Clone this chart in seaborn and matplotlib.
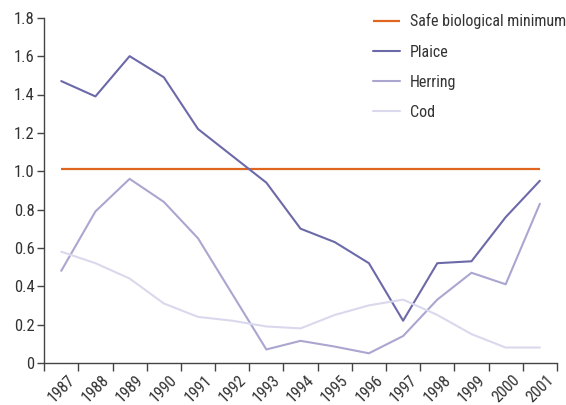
# Fish stocks relative to the safe biological minimum, 1987-2001

import pandas as pd
import matplotlib.pyplot as plt
import matplotlib.transforms as mtransforms
import seaborn as sns

years = [1987, 1988, 1989, 1990, 1991, 1992, 1993, 1994, 1995, 1996, 1997, 1998, 1999, 2000, 2001]
plaice = [1.47, 1.39, 1.60, 1.49, 1.22, 1.08, 0.94, 0.70, 0.63, 0.52, 0.22, 0.52, 0.53, 0.76, 0.95]
herring = [0.48, 0.79, 0.96, 0.84, 0.65, 0.36, 0.07, 0.115, 0.085, 0.05, 0.14, 0.33, 0.47, 0.41, 0.83]
cod = [0.58, 0.52, 0.44, 0.31, 0.24, 0.22, 0.19, 0.18, 0.25, 0.30, 0.33, 0.25, 0.15, 0.08, 0.08]
safe_minimum = 1.01

y_ticks = [0, 0.2, 0.4, 0.6, 0.8, 1.0, 1.2, 1.4, 1.6, 1.8]
y_labels = ["0", "0.2", "0.4", "0.6", "0.8", "1.0", "1.2", "1.4", "1.6", "1.8"]

colors = {
    "Safe biological minimum": "#e0651f",
    "Plaice": "#6c69a9",
    "Herring": "#aaa6d0",
    "Cod": "#dad8ec",
}

# long-form table for seaborn, categorical position per year
df = pd.DataFrame({"year": years, "Plaice": plaice, "Herring": herring, "Cod": cod})
df["pos"] = range(len(years))
long_df = df.melt(id_vars=["year", "pos"], var_name="species", value_name="value")

sns.set_style("ticks")
plt.rcParams["font.family"] = ["Roboto Condensed", "DejaVu Sans"]
text_color = "#333333"

fig = plt.figure(figsize=(5.66, 4.05), dpi=100)
ax = fig.add_axes([0.078, 0.104, 0.906, 0.852])

ax.hlines(safe_minimum, 0, len(years) - 1, color=colors["Safe biological minimum"],
          linewidth=1.6, label="Safe biological minimum", zorder=1)

sns.lineplot(
    data=long_df,
    x="pos",
    y="value",
    hue="species",
    hue_order=["Plaice", "Herring", "Cod"],
    palette=colors,
    linewidth=1.5,
    ax=ax,
    zorder=2,
)

ax.set_xlim(-0.5, len(years) - 0.5)
ax.set_ylim(0, 1.8)
ax.set_xlabel("")
ax.set_ylabel("")

# ticks at category boundaries, labels at centres
ax.set_xticks([i - 0.5 for i in range(len(years) + 1)])
ax.set_xticklabels([])
ax.set_xticks(range(len(years)), minor=True)
ax.set_xticklabels([str(y) for y in years], minor=True, rotation=45,
                   ha="right", va="top", rotation_mode="anchor",
                   fontsize=11.5, color=text_color)
ax.tick_params(axis="x", which="minor", length=0, pad=7)
ax.tick_params(axis="x", which="major", length=6, width=1, color="#444444")
shift = mtransforms.ScaledTranslation(0.06, 0, fig.dpi_scale_trans)
for lbl in ax.get_xticklabels(minor=True):
    lbl.set_transform(lbl.get_transform() + shift)

ax.set_yticks(y_ticks)
ax.set_yticklabels(y_labels, fontsize=12, color=text_color)
ax.tick_params(axis="y", length=5, width=1, color="#444444", pad=2)

sns.despine(ax=ax)
for side in ["left", "bottom"]:
    ax.spines[side].set_color("#444444")
    ax.spines[side].set_linewidth(1)

handles, labels = ax.get_legend_handles_labels()
order = [labels.index(n) for n in ["Safe biological minimum", "Plaice", "Herring", "Cod"]]
ax.legend(
    [handles[i] for i in order],
    [labels[i] for i in order],
    loc="upper left",
    bbox_to_anchor=(0.659, 0.967),
    bbox_transform=fig.transFigure,
    frameon=False,
    fontsize=11.5,
    labelcolor=text_color,
    handlelength=1.7,
    handletextpad=0.6,
    labelspacing=0.95,
    borderpad=0,
    borderaxespad=0,
)

fig.savefig("out.png", dpi=100)
